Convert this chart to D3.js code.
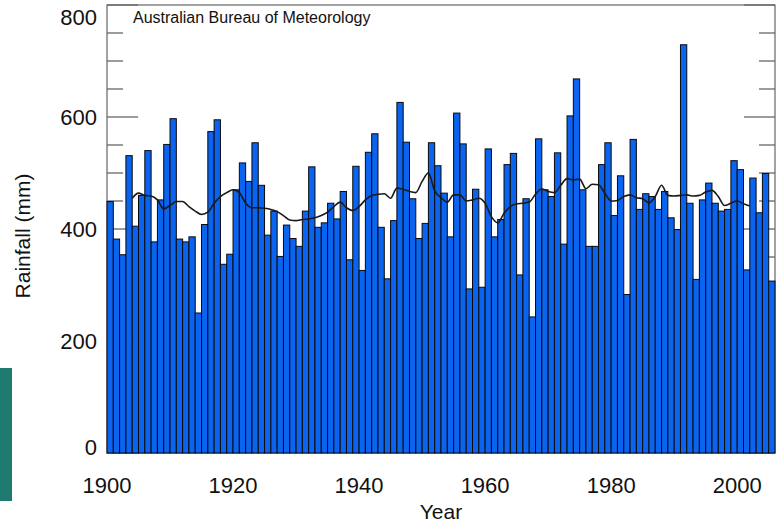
<!DOCTYPE html>
<html>
<head>
<meta charset="utf-8">
<script src="https://cdn.jsdelivr.net/npm/d3@7"></script>
<style>
  html, body { margin: 0; padding: 0; background: #fff; }
  svg { display: block; }
  text { font-family: "Liberation Sans", Arial, Helvetica, sans-serif; fill: #111; }
</style>
</head>
<body>
<svg id="chart" width="781" height="526"></svg>
<script>
// ---- data ----
const startYear = 1900;
const rainfall = [
  449, 382, 354, 531, 405, 460, 540, 377, 452, 551,
  597, 382, 377, 386, 250, 408, 574, 595, 337, 355,
  470, 518, 485, 554, 478, 389, 432, 351, 407, 383,
  369, 432, 511, 403, 411, 446, 418, 467, 345, 512,
  326, 537, 570, 403, 311, 415, 626, 555, 454, 383,
  410, 554, 513, 464, 386, 607, 552, 293, 471, 296,
  543, 386, 417, 515, 535, 318, 454, 243, 561, 470,
  458, 536, 373, 602, 668, 470, 369, 369, 515, 554,
  424, 495, 283, 560, 435, 463, 458, 435, 467, 420,
  399, 729, 446, 310, 452, 482, 446, 432, 435, 522,
  506, 327, 491, 429, 499, 307
];
const years = rainfall.map((_, i) => startYear + i);

const smoothStart = 1904;
const smoothed = [
  455, 464, 460, 459, 452, 436, 442, 449, 449, 440,
  432, 426, 430, 446, 458, 465, 470, 465, 446, 438,
  438, 437, 435, 431, 424, 416, 415, 417, 418, 420,
  424, 430, 440, 448, 438, 433, 440, 452, 460, 462,
  463, 455, 473, 471, 467, 465, 485, 500, 468, 456,
  448, 461, 461, 450, 452, 455, 446, 422, 411, 428,
  440, 445, 446, 448, 462, 472, 467, 465, 478, 490,
  488, 489, 472, 480, 479, 464, 450, 451, 458, 461,
  456, 454, 447, 458, 478, 460, 459, 460, 461, 459,
  460, 466, 469, 458, 442, 446, 450, 445, 441
];
const smoothYears = smoothed.map((_, i) => smoothStart + i);

const yMajorTicks = [0, 200, 400, 600, 800];
const yMinorStep = 50;
const xTickYears = [1900, 1920, 1940, 1960, 1980, 2000];
const titleText = "Australian Bureau of Meteorology";
const xLabel = "Year";
const yLabel = "Rainfall (mm)";

// ---- layout ----
const svg = d3.select("#chart");
const plotL = 107, plotR = 775, plotT = 5, plotB = 453;

const x = d3.scaleLinear().domain([1900, 2006]).range([plotL, plotR]);
const y = d3.scaleLinear().domain([0, 800]).range([plotB, plotT]);

// decorative slide strip at left edge
svg.append("rect").attr("x", 0).attr("y", 368).attr("width", 12).attr("height", 133)
  .attr("fill", "#1f7a6f");

// frame
const frameColor = "#666";
svg.append("rect").attr("x", plotL).attr("y", plotT)
  .attr("width", plotR - plotL).attr("height", plotB - plotT)
  .attr("fill", "none").attr("stroke", frameColor).attr("stroke-width", 1.2);

// ticks (inside, both sides)
const minorVals = d3.range(0, 801, yMinorStep);
const tickG = svg.append("g");
minorVals.forEach(v => {
  const major = yMajorTicks.includes(v);
  const len = major ? 31 : 16;
  tickG.append("line").attr("x1", plotL).attr("x2", plotL + len)
    .attr("y1", y(v)).attr("y2", y(v))
    .attr("stroke", frameColor).attr("stroke-width", 1.3);
  tickG.append("line").attr("x1", plotR).attr("x2", plotR - len)
    .attr("y1", y(v)).attr("y2", y(v))
    .attr("stroke", frameColor).attr("stroke-width", 1.3);
});

// bars
svg.append("g").selectAll("rect").data(years).join("rect")
  .attr("x", d => x(d))
  .attr("width", d => x(d + 1) - x(d))
  .attr("y", (d, i) => y(rainfall[i]))
  .attr("height", (d, i) => y(0) - y(rainfall[i]))
  .attr("fill", "#0a64f0")
  .attr("stroke", "#0a0a0a")
  .attr("stroke-width", 1);

// smoothed line
const line = d3.line().x(d => x(d[0])).y(d => y(d[1])).curve(d3.curveMonotoneX);
svg.append("path")
  .datum(smoothYears.map((yr, i) => [yr, smoothed[i]]))
  .attr("d", line)
  .attr("fill", "none").attr("stroke", "#1a1a1a").attr("stroke-width", 1.6);

// y tick labels
yMajorTicks.forEach(v => {
  let off = 8;
  if (v === 800) off = 20;
  if (v === 0) off = 2;
  svg.append("text").attr("x", 97).attr("y", y(v) + off)
    .attr("text-anchor", "end").attr("font-size", 22).text(v);
});

// x tick labels
xTickYears.forEach(yr => {
  svg.append("text").attr("x", x(yr)).attr("y", 493)
    .attr("text-anchor", "middle").attr("font-size", 22).text(yr);
});

// axis titles
svg.append("text").attr("x", 441).attr("y", 519)
  .attr("text-anchor", "middle").attr("font-size", 21).text(xLabel);
svg.append("text").attr("transform", "translate(30,236) rotate(-90)")
  .attr("text-anchor", "middle").attr("font-size", 21).text(yLabel);

// in-plot title
svg.append("text").attr("x", 133).attr("y", 23)
  .attr("font-size", 16).text(titleText);
</script>
</body>
</html>
